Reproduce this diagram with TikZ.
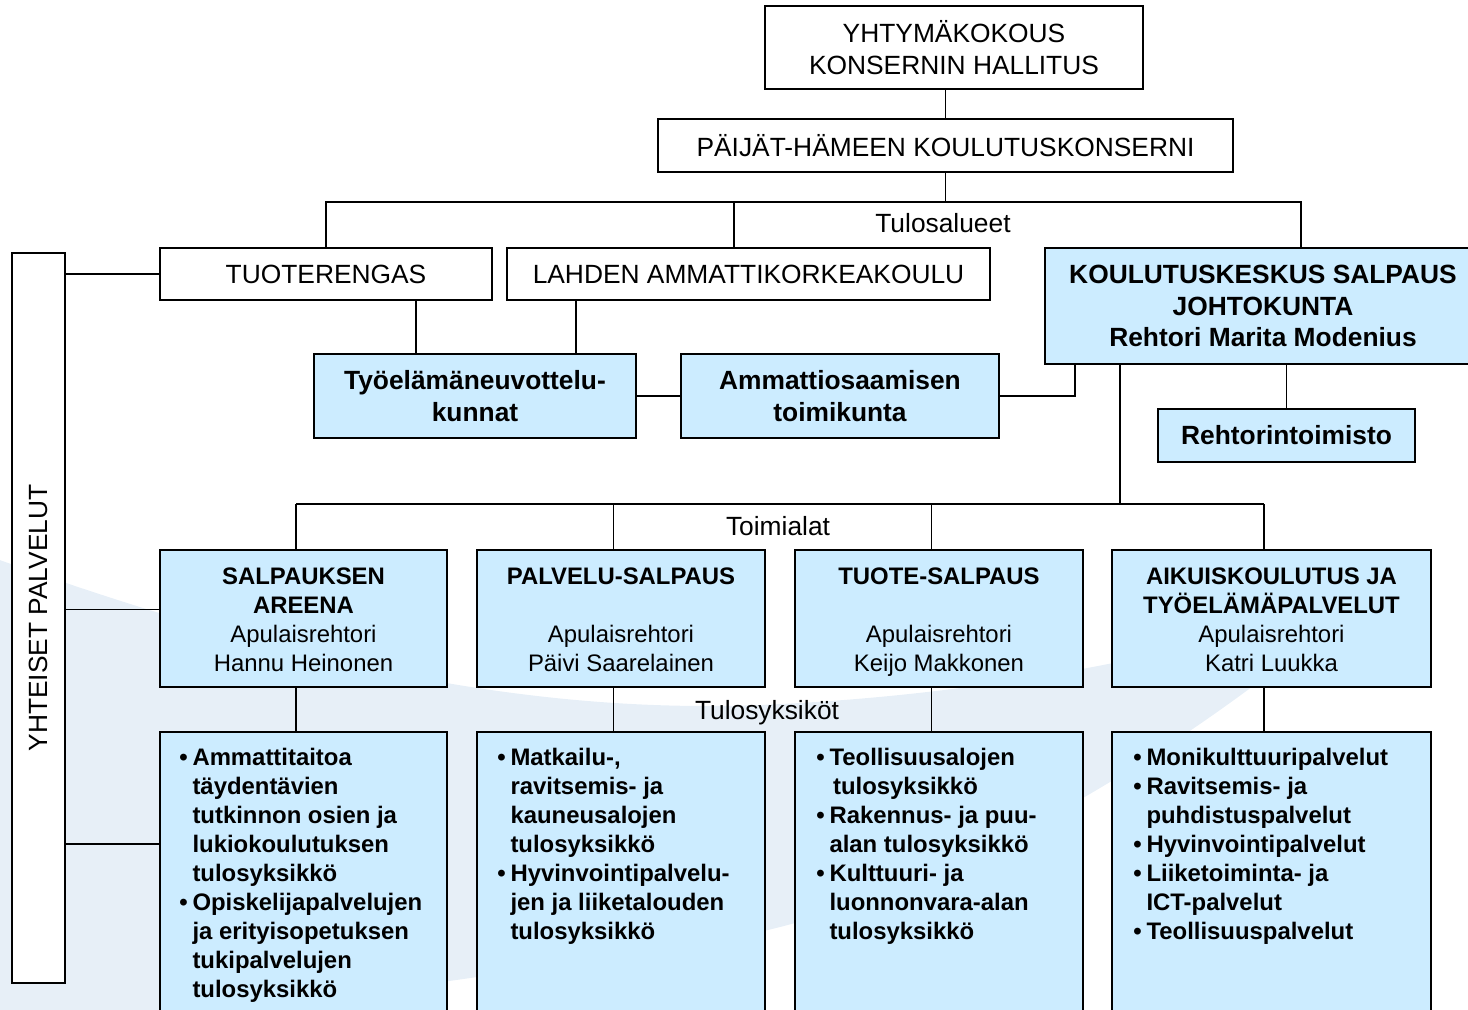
\documentclass[tikz,border=0pt]{standalone}
\usepackage{fontspec}
\setmainfont{Liberation Sans}
\usepackage{graphicx}
\usepackage{tikz}
\usetikzlibrary{calc}
\definecolor{boxblue}{RGB}{204,236,255}
\definecolor{swoosh}{RGB}{231,239,247}
\newcommand{\bul}{\makebox[0.55em][l]{\textbullet}}
\newcommand{\bcont}{\hspace*{0.55em}}
\newcommand{\topstrut}{\rule{0pt}{15.5pt}}
\begin{document}
\begin{tikzpicture}[x=0.02cm,y=-0.02cm,
  sz/.style 2 args={minimum width=#1*0.02cm,minimum height=#2*0.02cm},
  plainbox/.style={draw=black,line width=1.1pt,fill=white,inner sep=0pt,align=center,font=\fontsize{15}{18}\selectfont},
  bluebox/.style={plainbox,fill=boxblue,font=\fontsize{15}{18}\selectfont\bfseries},
  unitbox/.style={plainbox,fill=boxblue,font=\fontsize{13.6}{16.5}\selectfont},
  listtxt/.style={anchor=north west,inner sep=0pt,align=left,font=\fontsize{13.6}{16.5}\selectfont\bfseries},
  lbl/.style={inner sep=0pt,font=\fontsize{15}{18}\selectfont},
  link/.style={line width=0.9pt}]
\useasboundingbox (0,0) rectangle (1468,1010);
% tausta
\fill[swoosh] (-20,553) .. controls (250,650) and (500,715) .. (760,705)
  .. controls (1000,695) and (1200,650) .. (1360,600)
  .. controls (1200,740) and (950,900) .. (720,940)
  .. controls (450,985) and (200,1010) .. (100,1040) -- (-20,1040) -- cycle;

\node[plainbox,sz={378}{83}] (yhty) at (954,47.5) {YHTYMÄKOKOUS\\KONSERNIN HALLITUS};
\node[plainbox,sz={575}{53}] (phk) at (945.5,145.5) {PÄIJÄT-HÄMEEN KOULUTUSKONSERNI};
\node[plainbox,sz={332}{52}] (tuote) at (326,274) {TUOTERENGAS};
\node[plainbox,sz={483}{52}] (lamk) at (748.5,274) {LAHDEN AMMATTIKORKEAKOULU};
\node[bluebox,sz={436}{116}] (ksal) at (1263,306) {KOULUTUSKESKUS SALPAUS\\JOHTOKUNTA\\Rehtori Marita Modenius};
\node[bluebox,sz={322}{84}] (tyo) at (475,396) {Työelämäneuvottelu-\\kunnat};
\node[bluebox,sz={318}{84}] (amm) at (840,396) {Ammattiosaamisen\\toimikunta};
\node[bluebox,sz={257}{53}] (rehto) at (1286.5,435.5) {Rehtorintoimisto};
\node[plainbox,sz={53}{730}] (yht) at (38.5,618) {\rotatebox{90}{YHTEISET PALVELUT}};

\node[unitbox,sz={287}{137}] (areena) at (303.5,618.5) {\topstrut\textbf{SALPAUKSEN}\\\textbf{AREENA}\\Apulaisrehtori\\Hannu Heinonen\strut};
\node[unitbox,sz={288}{137}] (palvelu) at (621,618.5) {\topstrut\textbf{PALVELU-SALPAUS}\\\strut\\Apulaisrehtori\\Päivi Saarelainen\strut};
\node[unitbox,sz={288}{137}] (tuotes) at (939,618.5) {\topstrut\textbf{TUOTE-SALPAUS}\\\strut\\Apulaisrehtori\\Keijo Makkonen\strut};
\node[unitbox,sz={319}{137}] (aikuis) at (1271.5,618.5) {\topstrut\textbf{AIKUISKOULUTUS JA}\\\textbf{TYÖELÄMÄPALVELUT}\\Apulaisrehtori\\Katri Luukka\strut};

\node[unitbox,sz={287}{310}] (lowareena) at (303.5,887) {};
\node[unitbox,sz={288}{310}] (lowpalvelu) at (621,887) {};
\node[unitbox,sz={288}{310}] (lowtuotes) at (939,887) {};
\node[unitbox,sz={319}{310}] (lowaikuis) at (1271.5,887) {};

\node[listtxt] (txtareena) at ($(lowareena.north west)+(20,17)$)
  {\bul Ammattitaitoa\\\bcont täydentävien\\\bcont tutkinnon osien ja\\\bcont lukiokoulutuksen\\\bcont tulosyksikkö\\
   \bul Opiskelijapalvelujen\\\bcont ja erityisopetuksen\\\bcont tukipalvelujen\\\bcont tulosyksikkö};
\node[listtxt] (txtpalvelu) at ($(lowpalvelu.north west)+(21,17)$)
  {\bul Matkailu-,\\\bcont ravitsemis- ja\\\bcont kauneusalojen\\\bcont tulosyksikkö\\
   \bul Hyvinvointipalvelu-\\\bcont jen ja liiketalouden\\\bcont tulosyksikkö};
\node[listtxt] (txttuotes) at ($(lowtuotes.north west)+(22,17)$)
  {\bul Teollisuusalojen\\\bcont\hspace*{0.15em}tulosyksikkö\\
   \bul Rakennus- ja puu-\\\bcont alan tulosyksikkö\\
   \bul Kulttuuri- ja\\\bcont luonnonvara-alan\\\bcont tulosyksikkö};
\node[listtxt] (txtaikuis) at ($(lowaikuis.north west)+(22,17)$)
  {\bul Monikulttuuripalvelut\\\bul Ravitsemis- ja\\\bcont puhdistuspalvelut\\
   \bul Hyvinvointipalvelut\\\bul Liiketoiminta- ja\\\bcont ICT-palvelut\\\bul Teollisuuspalvelut};

\coordinate (tr) at ($(ksal.north)+(38,-45)$);
\draw[link] (phk.north) -- (phk.north |- yhty.south);
\draw[link] (phk.south) -- (phk.south |- tr);
\draw[link] (tuote.north) |- (tr) -- (tr |- ksal.north);
\draw[link] ($(lamk.north)+(-14.5,0)$) -- +(0,-45);
\node[lbl] (tulosalueet) at (943,223) {Tulosalueet};

\coordinate (a1) at ($(tuote.south)+(90,0)$);
\coordinate (a2) at ($(lamk.south)+(-172.5,0)$);
\coordinate (a3) at ($(ksal.south)+(-188,0)$);
\coordinate (a4) at ($(ksal.south)+(-143,0)$);
\draw[link] (a1) -- (a1 |- tyo.north);
\draw[link] (a2) -- (a2 |- tyo.north);
\draw[link] (tyo.east) -- (amm.west);
\draw[link] (amm.east) -| (a3);
\draw[link] (rehto.north) -- (rehto.north |- ksal.south);

\coordinate (b1) at ($(areena.north)+(-7.5,-45)$);
\coordinate (b2) at ($(aikuis.north)+(-7.5,-45)$);
\draw[link] (a4) -- (a4 |- b2);
\draw[link] (b1) -- (b2);
\foreach \n in {areena,palvelu,tuotes,aikuis}{
  \draw[link] ($(\n.north)+(-7.5,0)$) -- +(0,-45);
  \draw[link] ($(\n.south)+(-7.5,0)$) -- +(0,45);
}
\node[lbl] (toimialat) at (778,526) {Toimialat};
\node[lbl] (tulosyksikot) at (767,713) {Tulosyksiköt};

\coordinate (y1) at ($(areena.west)+(0,-9)$);
\coordinate (y2) at ($(lowareena.north west)+(0,113)$);
\draw[link] (tuote.west) -- (tuote.west -| yht.east);
\draw[link] (y1) -- (y1 -| yht.east);
\draw[link] (y2) -- (y2 -| yht.east);
\end{tikzpicture}
\end{document}
